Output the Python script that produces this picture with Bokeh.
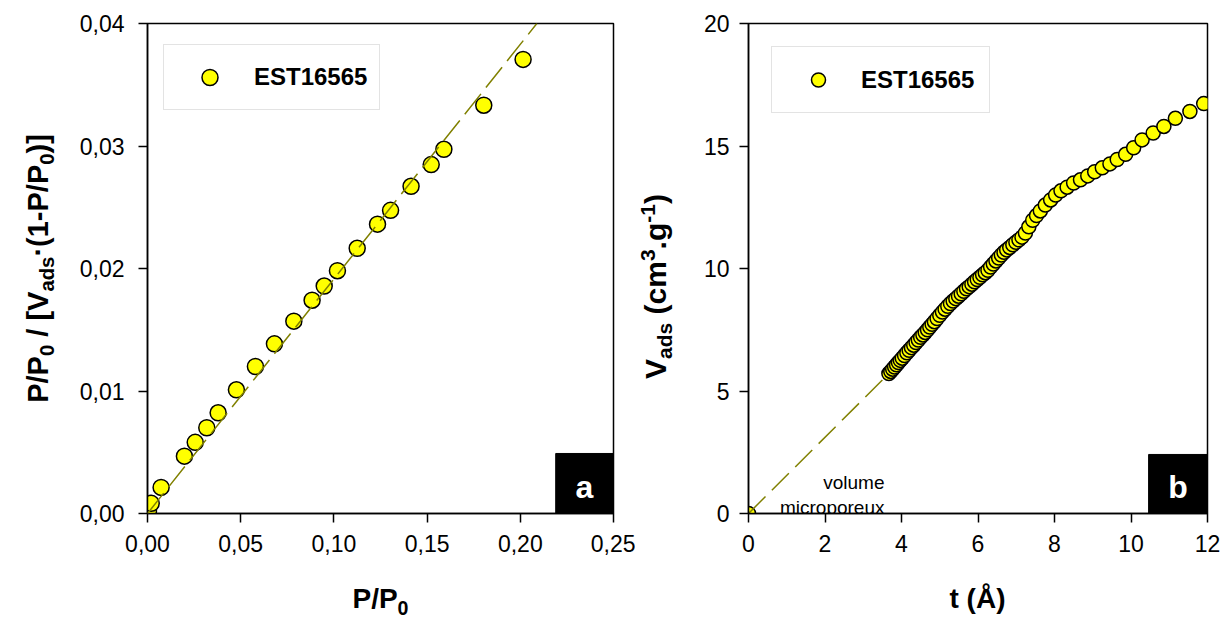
import math
from bokeh.plotting import figure
from bokeh.models import Range1d, FixedTicker, Label, Legend, LegendItem, BoxAnnotation, Slope
from bokeh.layouts import row, column
from bokeh.embed import file_html
from bokeh.resources import INLINE

# ---------------- data ----------------
sample_name = "EST16565"

# (a) BET transform
bet_p = [0.0005, 0.0020, 0.0073, 0.0198, 0.0256, 0.0318, 0.0379, 0.0477, 0.0579, 0.0681, 0.0785,
         0.0883, 0.0948, 0.1019, 0.1125, 0.1234, 0.1304, 0.1414, 0.1522, 0.1590, 0.1804, 0.2015]
bet_y = [0.00020, 0.00083, 0.00213, 0.00468, 0.00581, 0.00700, 0.00822, 0.01010, 0.01200, 0.01385, 0.01570,
         0.01741, 0.01857, 0.01982, 0.02165, 0.02362, 0.02475, 0.02671, 0.02848, 0.02973, 0.03333, 0.03707]
bet_slope = 0.1915
bet_intercept = 0.0

# (b) t-plot
t_vals = [0.0,
          3.67, 3.72, 3.77, 3.82, 3.87, 3.92, 3.97, 4.02, 4.08, 4.14, 4.20, 4.26, 4.32, 4.38, 4.44, 4.50,
          4.56, 4.62, 4.68, 4.74, 4.80, 4.86, 4.93, 5.00, 5.07, 5.14, 5.21, 5.28, 5.35, 5.42, 5.49, 5.56,
          5.63, 5.70, 5.77, 5.84, 5.91, 5.98, 6.05, 6.12, 6.19, 6.26, 6.33, 6.40, 6.47, 6.54, 6.61, 6.68,
          6.75, 6.83, 6.91, 6.99, 7.07, 7.15, 7.24, 7.33, 7.43, 7.53, 7.63, 7.76, 7.90, 8.03, 8.17, 8.33,
          8.50, 8.68, 8.87, 9.05, 9.25, 9.45, 9.64, 9.86, 10.07, 10.29, 10.58, 10.86, 11.16, 11.54, 11.90]
v_vals = [0.0,
          5.71, 5.80, 5.89, 5.98, 6.07, 6.16, 6.25, 6.34, 6.45, 6.56, 6.66, 6.77, 6.87, 6.98, 7.08, 7.19,
          7.29, 7.39, 7.50, 7.61, 7.72, 7.83, 7.96, 8.09, 8.22, 8.34, 8.46, 8.57, 8.67, 8.77, 8.87, 8.97,
          9.07, 9.17, 9.26, 9.36, 9.46, 9.55, 9.64, 9.74, 9.83, 9.93, 10.06, 10.18, 10.31, 10.43, 10.55, 10.66,
          10.76, 10.86, 10.97, 11.07, 11.17, 11.28, 11.45, 11.70, 11.97, 12.16, 12.35, 12.59, 12.80, 13.00, 13.17, 13.32,
          13.49, 13.62, 13.78, 13.95, 14.11, 14.27, 14.45, 14.66, 14.93, 15.25, 15.53, 15.80, 16.13, 16.41, 16.73]

xa_ticks = [0.0, 0.05, 0.10, 0.15, 0.20, 0.25]
xa_labels = ["0,00", "0,05", "0,10", "0,15", "0,20", "0,25"]
ya_ticks = [0.0, 0.01, 0.02, 0.03, 0.04]
ya_labels = ["0,00", "0,01", "0,02", "0,03", "0,04"]
xb_ticks = [0, 2, 4, 6, 8, 10, 12]
xb_labels = ["0", "2", "4", "6", "8", "10", "12"]
yb_ticks = [0, 5, 10, 15, 20]
yb_labels = ["0", "5", "10", "15", "20"]

# ---------------- style / layout constants (page pixels) ----------------
FONT = "Liberation Sans"
LINE_COL = "#808000"
TICK_SIZE = "23px"
AX_SIZE = 28
YAX_SIZE = 29
YBX_SIZE = 30
TOP_H = 580          # height of the row that holds the plots
BOT_H = 40           # height of the strip holding the x-axis titles
FR_TOP, FR_BOT = 23, 513   # frame top / bottom (page px)
YA_W, PA_W, YB_W, PB_W = 58, 577, 55, 538

W_BOLD = {'P': .667, '/': .278, '0': .556, ' ': .278, '[': .333, 'V': .667, 'a': .556, 'd': .611,
          's': .556, '·': .333, '(': .333, '1': .556, '-': .333, ')': .333, ']': .333, 'c': .556,
          'm': .889, '3': .556, '.': .278, 'g': .611, 't': .333, 'Å': .722}


def tw(s, size):
    return sum(W_BOLD.get(c, 0.556) for c in s) * size


def rich_len(parts, size):
    return sum(tw(t, size if k == 'n' else size * 0.7) for t, k in parts)


def rich_label(p, parts, x0, y0, size, vertical, ox, oy_top, h):
    """x0,y0: page coords of the baseline start. (ox, oy_top): page coords of the
    top-left corner of the helper figure p of height h (data units = pixels, y up).
    Every piece is anchored at its own centre so that rotation cannot move it."""
    pos = 0.0
    for txt, kind in parts:
        fs = size if kind == 'n' else size * 0.7
        base = 0.0 if kind == 'n' else (-0.22 * size if kind == 'sub' else 0.33 * size)
        core = txt.strip(' ')
        lead = len(txt) - len(txt.lstrip(' '))
        along = pos + tw(' ' * lead, fs) + tw(core, fs) / 2.0
        up = base + 0.34 * fs
        if vertical:
            px, py = x0 - up, y0 - along
        else:
            px, py = x0 + along, y0 - up
        p.add_layout(Label(x=px - ox, y=h - (py - oy_top), text=core,
                           angle=(math.pi / 2 if vertical else 0), text_font=FONT,
                           text_font_size=f"{fs:.1f}px", text_font_style='bold', text_color='black',
                           text_align='center', text_baseline='middle'))
        pos += tw(txt, fs)


def helper_fig(w, h, top=0, bottom=0):
    """Blank strip whose data units are page pixels (y up, measured from the strip's bottom).
    Its frame is given the same top/bottom borders as the plots next to it."""
    p = figure(width=w, height=h, x_range=Range1d(0, w), y_range=Range1d(bottom, h - top),
               output_backend="svg", toolbar_location=None, x_axis_location=None,
               y_axis_location=None, title=None, min_border=0, min_border_left=0,
               min_border_right=0, min_border_top=top, min_border_bottom=bottom)
    p.grid.visible = False
    p.outline_line_color = None
    p.background_fill_color = "white"
    p.border_fill_color = "white"
    return p


def make_fig(width, bl, br, xr, yr, xt, xl, yt, yl, ystand):
    p = figure(width=width, height=TOP_H, x_range=xr, y_range=yr, output_backend="svg",
               toolbar_location=None, min_border_left=bl, min_border_right=br,
               min_border_top=FR_TOP, min_border_bottom=TOP_H - FR_BOT)
    p.grid.visible = False
    p.outline_line_color = "black"
    p.outline_line_width = 1.5
    p.outline_line_alpha = 1.0
    p.background_fill_color = "white"
    p.border_fill_color = "white"
    for ax, ticks, labels in ((p.xaxis[0], xt, xl), (p.yaxis[0], yt, yl)):
        ax.ticker = FixedTicker(ticks=ticks)
        ax.major_label_overrides = {t: l for t, l in zip(ticks, labels)}
        ax.axis_line_color = "black"
        ax.axis_line_width = 1.5
        ax.major_tick_line_color = "black"
        ax.major_tick_line_width = 1.5
        ax.major_tick_out = 9
        ax.major_tick_in = 0
        ax.minor_tick_line_color = None
        ax.major_label_text_font = FONT
        ax.major_label_text_font_size = TICK_SIZE
        ax.major_label_text_color = "black"
        ax.axis_label = None
    p.xaxis[0].major_label_standoff = 12
    p.yaxis[0].major_label_standoff = ystand
    return p


def add_legend(p, r, loc, pad, gw, gh, stand):
    leg = Legend(items=[LegendItem(label=sample_name, renderers=[r])], location=loc,
                 border_line_color="#C8C8C8", border_line_width=1.5, background_fill_color="white",
                 background_fill_alpha=1.0, label_text_font=FONT, label_text_font_style="bold",
                 label_text_font_size="24px", label_text_color="black", padding=pad, spacing=0, margin=0,
                 glyph_width=gw, glyph_height=gh, label_standoff=stand, label_height=gh)
    p.add_layout(leg)


# ---------------- (a) ----------------
pa = make_fig(PA_W, 147 - YA_W, 635 - 613, Range1d(0, 0.25), Range1d(0, 0.04),
              xa_ticks, xa_labels, ya_ticks, ya_labels, 14)
ra = pa.scatter(bet_p, bet_y, size=16, marker="circle", fill_color="#FFFF00", line_color="black", line_width=1.5)
pa.add_layout(Slope(gradient=bet_slope, y_intercept=bet_intercept, line_color=LINE_COL, line_width=1.5,
                    line_dash="26 8"))
add_legend(pa, ra, (16, 403), 12, 67, 40, 11)
pa.add_layout(BoxAnnotation(left=0.219, right=0.25, bottom=0.0, top=0.0049, fill_color="black",
                            fill_alpha=1.0, line_color="black", line_alpha=1.0))
pa.add_layout(Label(x=437, y=27, x_units='screen', y_units='screen', text="a", text_font=FONT,
                    text_font_size="32px", text_font_style="bold", text_color="white",
                    text_align="center", text_baseline="middle"))

# ---------------- (b) ----------------
pb = make_fig(PB_W, 748 - (YA_W + PA_W + YB_W), 1228 - 1207, Range1d(0, 12), Range1d(0, 20),
              xb_ticks, xb_labels, yb_ticks, yb_labels, 10)
rb = pb.scatter(t_vals, v_vals, size=14, marker="circle", fill_color="#FFFF00", line_color="black", line_width=1.5)
pb.line(t_vals[0:2], v_vals[0:2], line_color=LINE_COL, line_width=1.5, line_dash="24 9")
add_legend(pb, rb, (23, 400), 15, 62, 35, 12)
pb.add_layout(BoxAnnotation(left=10.46, right=12, bottom=0.0, top=2.41, fill_color="black",
                            fill_alpha=1.0, line_color="black", line_alpha=1.0))
pb.add_layout(Label(x=429.5, y=27, x_units='screen', y_units='screen', text="b", text_font=FONT,
                    text_font_size="32px", text_font_style="bold", text_color="white",
                    text_align="center", text_baseline="middle"))
for txt, base in (("volume", 482), ("microporeux", 507)):
    pb.add_layout(Label(x=884 - 748, y=513 - base, x_units='screen', y_units='screen', text=txt,
                        text_font=FONT, text_font_size="19px", text_color="black",
                        text_align="right", text_baseline="alphabetic"))

# ---------------- axis titles (helper strips) ----------------
ya_fig = helper_fig(YA_W, TOP_H, FR_TOP, TOP_H - FR_BOT)
ya_parts = [("P/P", 'n'), ("0", 'sub'), (" / [V", 'n'), ("ads", 'sub'), ("·(1-P/P", 'n'), ("0", 'sub'), (")]", 'n')]
rich_label(ya_fig, ya_parts, 47, 268 + rich_len(ya_parts, YAX_SIZE) / 2, YAX_SIZE, True, 0, 0, TOP_H)

yb_fig = helper_fig(YB_W, TOP_H, FR_TOP, TOP_H - FR_BOT)
yb_parts = [("V", 'n'), ("ads", 'sub'), (" (cm", 'n'), ("3", 'sup'), (".g", 'n'), ("-1", 'sup'), (")", 'n')]
rich_label(yb_fig, yb_parts, 665, 286 + rich_len(yb_parts, YBX_SIZE) / 2, YBX_SIZE, True,
           YA_W + PA_W, 0, TOP_H)

x_fig = helper_fig(YA_W + PA_W + YB_W + PB_W, BOT_H)
xa_parts = [("P/P", 'n'), ("0", 'sub')]
rich_label(x_fig, xa_parts, 380 - rich_len(xa_parts, AX_SIZE) / 2, 608, AX_SIZE, False, 0, TOP_H, BOT_H)
xb_parts = [("t (Å)", 'n')]
rich_label(x_fig, xb_parts, 977 - rich_len(xb_parts, AX_SIZE) / 2, 608, AX_SIZE, False, 0, TOP_H, BOT_H)

layout = column(row(ya_fig, pa, yb_fig, pb), x_fig)
open("out.html", "w").write(file_html(layout, INLINE))
